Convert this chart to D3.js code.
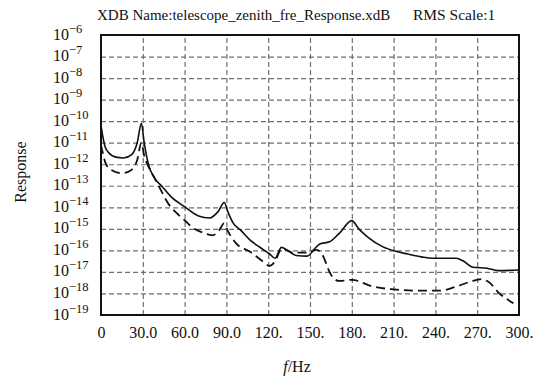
<!DOCTYPE html>
<html><head><meta charset="utf-8">
<script src="https://cdn.jsdelivr.net/npm/d3@7"></script>
<style>
body{margin:0;background:#fff;}
svg{display:block;font-family:"Liberation Serif","Times New Roman",serif;}
</style></head><body>
<svg id="c" width="547" height="377"></svg>
<script>
const titleText = "XDB Name:telescope_zenith_fre_Response.xdB";
const scaleText = "RMS Scale:1";
const xTicks = [0,30,60,90,120,150,180,210,240,270,300];
const xTickLabels = ["0","30.0","60.0","90.0","120.","150.","180.","210.","240.","270.","300."];
const yExponents = [-6,-7,-8,-9,-10,-11,-12,-13,-14,-15,-16,-17,-18,-19];

const solidFreq = [0,1,3,6,10,16,22,26,29,31,34,38,44,50,60,70,78,84,88.5,91,95,100,107,114,121,125,129.5,135,140,148,153,157,164,171,180,185,191,202,212,220,230,238,255,260,267,277,285,300];
const solidResp = [6.3e-11,2.5e-11,6.3e-12,3.2e-12,2.2e-12,1.95e-12,2.8e-12,1.0e-11,7.9e-11,1.0e-11,1.0e-12,2.5e-13,9.1e-14,3.2e-14,1.07e-14,4.0e-15,3.2e-15,6.3e-15,1.66e-14,6.3e-15,1.8e-15,8.9e-16,3.0e-16,1.4e-16,6.8e-17,4.3e-17,1.38e-16,8.9e-17,5.8e-17,5.4e-17,1.12e-16,2.0e-16,2.5e-16,6.2e-16,2.4e-15,1.0e-15,4.4e-16,1.5e-16,8.9e-17,6.8e-17,5.0e-17,4.3e-17,4.3e-17,3.2e-17,1.66e-17,1.48e-17,1.15e-17,1.23e-17];

const dashFreq = [0,1,3,7,15,21,26,29,31,34,38,43,48,54,60,67,72,80,85,88.3,90.6,97,107,115,121,125,129.7,138,148,154.8,159.6,163,167,171,180,195,210,227,243,255,265,273,278,286,296];
const dashResp = [7.9e-12,4.0e-12,1.26e-12,5.6e-13,3.8e-13,5.0e-13,1.58e-12,1.0e-11,2.5e-12,7.9e-13,2.6e-13,6.3e-14,1.58e-14,5.6e-15,2.5e-15,1.0e-15,7.1e-16,5.0e-16,8.9e-16,1.8e-15,8.9e-16,2.1e-16,8.7e-17,3.5e-17,1.9e-17,3.2e-17,1.26e-16,7.8e-17,7.8e-17,1.05e-16,5.1e-17,1.4e-17,5.0e-18,3.8e-18,4.3e-18,2.1e-18,1.55e-18,1.35e-18,1.35e-18,2.1e-18,3.5e-18,4.6e-18,3.5e-18,1.0e-18,3.5e-19];

const svg = d3.select("#c");
const L = 101, R = 519, T = 35, B = 315;
const x = d3.scaleLinear().domain([0,300]).range([L,R]);
const y = d3.scaleLog().domain([1e-19,1e-6]).range([B,T]);

// grid
const gx = svg.append("g").attr("transform",`translate(0,${B})`)
  .call(d3.axisBottom(x).tickValues(xTicks.slice(1,-1)).tickSize(-(B-T)).tickFormat(""));
const gy = svg.append("g").attr("transform",`translate(${L},0)`)
  .call(d3.axisLeft(y).tickValues(yExponents.slice(1,-1).map(e=>Math.pow(10,e))).tickSize(-(R-L)).tickFormat(""));
[gx,gy].forEach(g=>{
  g.select(".domain").remove();
  g.selectAll(".tick line").attr("stroke","#6f6f6f").attr("stroke-width",1.2).attr("stroke-dasharray","5,3");
});

// x labels
const ax = svg.append("g").attr("transform",`translate(0,${B})`)
  .call(d3.axisBottom(x).tickValues(xTicks).tickSize(0).tickPadding(0).tickFormat((d,i)=>xTickLabels[i]));
ax.select(".domain").remove();
ax.selectAll("text").attr("font-family","Liberation Serif").attr("font-size",16).attr("fill","#111").attr("dy",null).attr("y",23);

// y labels
const ay = svg.append("g").attr("transform",`translate(${L},0)`)
  .call(d3.axisLeft(y).tickValues(yExponents.map(e=>Math.pow(10,e))).tickSize(0).tickPadding(0).tickFormat(""));
ay.select(".domain").remove();
ay.selectAll(".tick text").each(function(d){
  const e = Math.round(Math.log10(d));
  const t = d3.select(this).attr("x",-48).attr("dy",null).attr("y",4)
    .attr("text-anchor","start").attr("font-family","Liberation Serif").attr("font-size",16).attr("fill","#111");
  t.text(null);
  t.append("tspan").text("10");
  t.append("tspan").attr("font-size",12.5).attr("dy",-7).text("\u2212"+Math.abs(e));
});

// lines
const line = d3.line().x(d=>x(d[0])).y(d=>y(d[1])).curve(d3.curveMonotoneX);
svg.append("path").datum(solidFreq.map((f,i)=>[f,solidResp[i]]))
  .attr("d",line).attr("fill","none").attr("stroke","#111").attr("stroke-width",1.6);
svg.append("path").datum(dashFreq.map((f,i)=>[f,dashResp[i]]))
  .attr("d",line).attr("fill","none").attr("stroke","#111").attr("stroke-width",1.8).attr("stroke-dasharray","9,5");

// frame
svg.append("rect").attr("x",L).attr("y",T).attr("width",R-L).attr("height",B-T)
  .attr("fill","none").attr("stroke","#111").attr("stroke-width",2);

// titles
svg.append("text").attr("x",97).attr("y",20).attr("font-size",15).attr("fill","#111").text(titleText);
svg.append("text").attr("x",413).attr("y",20).attr("font-size",15.5).attr("fill","#111").text(scaleText);
const xl = svg.append("text").attr("x",297).attr("y",372).attr("text-anchor","middle").attr("font-size",16).attr("fill","#111");
xl.append("tspan").attr("font-style","italic").text("f");
xl.append("tspan").text("/Hz");
svg.append("text").attr("transform","translate(26,172) rotate(-90)").attr("text-anchor","middle")
  .attr("font-size",16).attr("fill","#111").text("Response");
</script></body></html>
